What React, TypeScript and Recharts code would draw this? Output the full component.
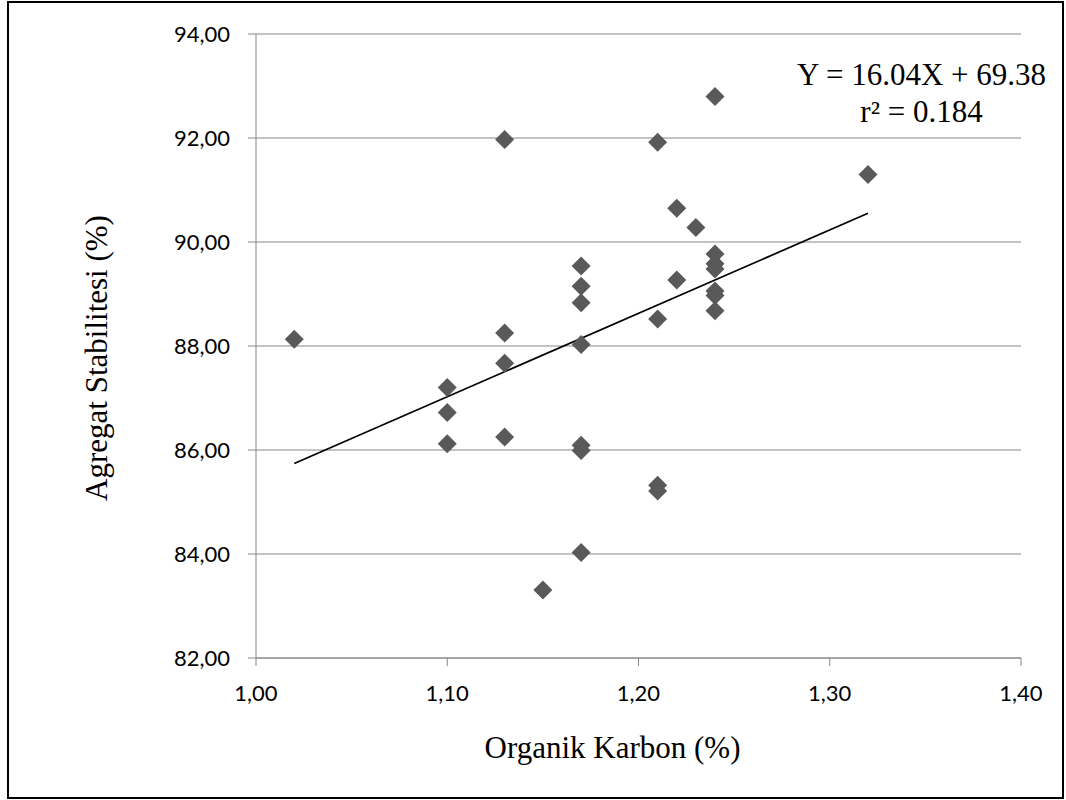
import React from "react";
import {
  ScatterChart,
  Scatter,
  XAxis,
  YAxis,
  CartesianGrid,
  ReferenceLine,
} from "recharts";

// organic carbon (%) vs aggregate stability (%)
const carbon = [
  1.02,
  1.1, 1.1, 1.1,
  1.13, 1.13, 1.13, 1.13,
  1.15,
  1.17, 1.17, 1.17, 1.17, 1.17, 1.17, 1.17,
  1.21, 1.21, 1.21, 1.21,
  1.22, 1.22,
  1.23,
  1.24, 1.24, 1.24, 1.24, 1.24, 1.24, 1.24,
  1.32,
];
const stability = [
  88.13,
  87.2, 86.72, 86.12,
  91.97, 88.25, 87.67, 86.25,
  83.31,
  89.54, 89.15, 88.83, 88.03, 86.09, 85.99, 84.03,
  91.92, 88.52, 85.32, 85.21,
  90.65, 89.27,
  90.28,
  92.8, 89.77, 89.58, 89.48, 89.06, 88.97, 88.68,
  91.3,
];

const xTicks = [1.0, 1.1, 1.2, 1.3, 1.4];
const yTicks = [82, 84, 86, 88, 90, 92, 94];

// trend line from the regression shown on the chart
const slope = 16.04;
const intercept = 69.38;
const trendX = [1.02, 1.32];

const points = carbon.map((x, i) => ({ x, y: stability[i] }));
const trend = trendX.map((x) => ({ x, y: slope * x + intercept }));

const comma = (v: number) => v.toFixed(2).replace(".", ",");

const GRID = "#878787";
const TICK_FONT = "Lato, 'Open Sans', sans-serif";
const SERIF = "'Liberation Serif', 'Times New Roman', serif";

const Diamond = (props: any) => {
  const { cx, cy } = props;
  const r = 9.5;
  return (
    <polygon
      points={`${cx},${cy - r} ${cx + r},${cy} ${cx},${cy + r} ${cx - r},${cy}`}
      fill="#595959"
    />
  );
};

const YTitle = ({ viewBox }: any) => {
  const cx = viewBox.x + 96;
  const cy = 358;
  return (
    <text
      x={cx}
      y={cy}
      transform={`rotate(-90 ${cx} ${cy})`}
      textAnchor="middle"
      dominantBaseline="central"
      fontFamily={SERIF}
      fontSize={31}
      fill="#000"
    >
      Agregat Stabilitesi (%)
    </text>
  );
};

const XTitle = ({ viewBox }: any) => (
  <text
    x={viewBox.x + viewBox.width / 2 - 26}
    y={758}
    textAnchor="middle"
    fontFamily={SERIF}
    fontSize={31}
    fill="#000"
  >
    Organik Karbon (%)
  </text>
);

export default function App() {
  return (
    <div style={{ position: "absolute", left: 0, top: 0, width: 1066, height: 800, background: "#fff" }}>
      <div
        style={{
          position: "absolute",
          left: 7,
          top: 1,
          width: 1057,
          height: 798,
          border: "2px solid #000",
          boxSizing: "border-box",
        }}
      />
      <ScatterChart
        width={1066}
        height={800}
        margin={{ top: 34, right: 45, bottom: 0, left: 0 }}
        style={{ position: "absolute", left: 0, top: 0 }}
      >
        <CartesianGrid stroke={GRID} vertical={false} />
        <XAxis
          type="number"
          dataKey="x"
          domain={[1.0, 1.4]}
          ticks={xTicks}
          tickFormatter={comma}
          height={142}
          stroke={GRID}
          tickSize={8}
          tickMargin={19}
          tick={{ fill: "#000", fontSize: 22, fontFamily: TICK_FONT }}
          label={<XTitle />}
        />
        <YAxis
          type="number"
          dataKey="y"
          domain={[82, 94]}
          ticks={yTicks}
          tickFormatter={comma}
          width={256}
          stroke={GRID}
          tickSize={8}
          tickMargin={18}
          tick={{ fill: "#000", fontSize: 22, fontFamily: TICK_FONT }}
          label={<YTitle />}
        />
        <Scatter data={points} shape={<Diamond />} isAnimationActive={false} />
        <ReferenceLine
          segment={trend}
          stroke="#000"
          strokeWidth={1.75}
          ifOverflow="visible"
        />
      </ScatterChart>
      <svg
        width={1066}
        height={800}
        style={{ position: "absolute", left: 0, top: 0, pointerEvents: "none" }}
      >
        <text x={921.5} y={85} textAnchor="middle" fontFamily={SERIF} fontSize={31} fill="#000">
          Y = 16.04X + 69.38
        </text>
        <text x={921.5} y={121.5} textAnchor="middle" fontFamily={SERIF} fontSize={31} fill="#000">
          r² = 0.184
        </text>
      </svg>
    </div>
  );
}
